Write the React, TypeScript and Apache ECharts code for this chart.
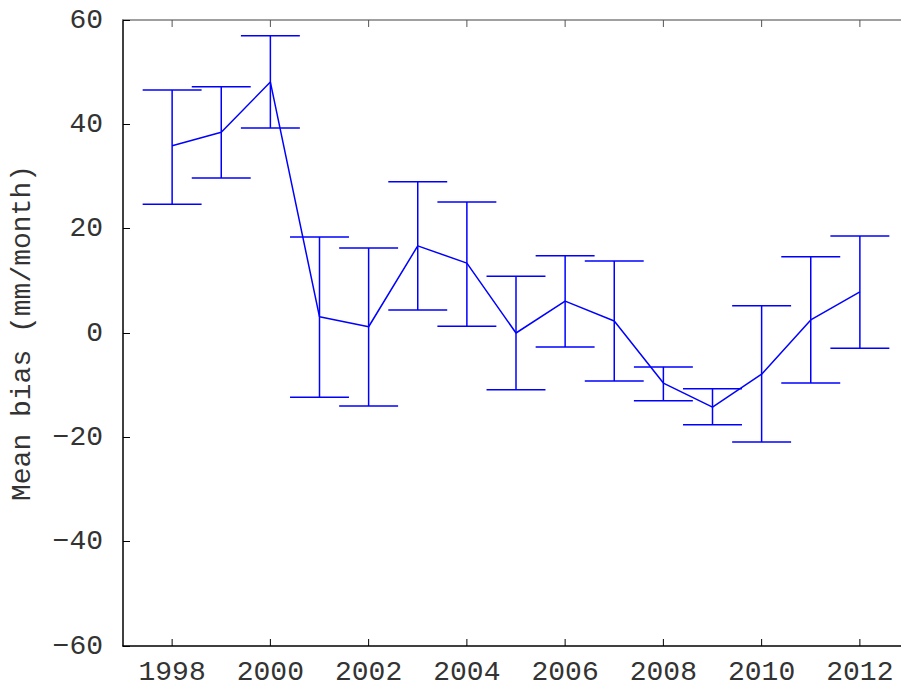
import React, { useEffect, useRef } from "react";
import * as echarts from "echarts";

const years = [1998, 1999, 2000, 2001, 2002, 2003, 2004, 2005, 2006, 2007, 2008, 2009, 2010, 2011, 2012];
const meanBias = [35.9, 38.5, 48.1, 3.1, 1.2, 16.7, 13.4, 0.0, 6.1, 2.3, -9.6, -14.2, -7.9, 2.5, 7.9];
const upper = [46.6, 47.2, 57.0, 18.4, 16.3, 29.0, 25.1, 10.9, 14.8, 13.8, -6.5, -10.7, 5.2, 14.6, 18.6];
const lower = [24.7, 29.7, 39.3, -12.3, -14.0, 4.4, 1.3, -10.9, -2.7, -9.2, -13.0, -17.6, -20.9, -9.6, -2.9];
const yTicks = [-60, -40, -20, 0, 20, 40, 60];

const FONT = "Liberation Mono";
const BLUE = "#0000ff";
const TEXT = "#333";

export default function App() {
  const ref = useRef<HTMLDivElement>(null);
  useEffect(() => {
    if (!ref.current) return;
    const chart = echarts.init(ref.current, undefined, { renderer: "svg" });
    const errData = years.map((y, i) => [y, lower[i], upper[i]]);
    chart.setOption({
      animation: false,
      backgroundColor: "#ffffff",
      grid: { left: 120, top: 20, right: 0, bottom: 42 },
      xAxis: [
        {
          type: "value",
          min: 1997,
          max: 2013,
          interval: 1,
          position: "bottom",
          splitLine: { show: false },
          axisLine: { show: true, onZero: false, lineStyle: { color: "#000", width: 1.5 } },
          axisTick: { show: false },
          axisLabel: {
            show: true,
            margin: 12,
            fontFamily: FONT,
            fontSize: 28,
            color: TEXT,
            formatter: (v: number) => (v % 2 === 0 ? String(v) : ""),
          },
        },
        {
          type: "value",
          min: 1997,
          max: 2013,
          interval: 1,
          position: "top",
          splitLine: { show: false },
          axisLine: { show: true, onZero: false, lineStyle: { color: "#808080", width: 1.5 } },
          axisTick: { show: false },
          axisLabel: { show: false },
        },
      ],
      yAxis: {
        type: "value",
        min: yTicks[0],
        max: yTicks[yTicks.length - 1],
        interval: 20,
        name: "Mean bias (mm/month)",
        nameLocation: "middle",
        nameGap: 87,
        nameRotate: 90,
        nameTextStyle: { fontFamily: FONT, fontSize: 28, color: TEXT },
        splitLine: { show: false },
        axisLine: { show: true, onZero: false, lineStyle: { color: "#000", width: 1.5 } },
        axisTick: { show: true, inside: true, length: 7, lineStyle: { color: "#000", width: 1 } },
        axisLabel: {
          fontFamily: FONT,
          fontSize: 28,
          color: TEXT,
          margin: 20,
          formatter: (v: number) => (v < 0 ? "\u2212" + Math.abs(v) : String(v)),
        },
      },
      series: [
        {
          type: "line",
          data: years.map((y, i) => [y, meanBias[i]]),
          symbol: "none",
          lineStyle: { color: BLUE, width: 1.5 },
          z: 3,
        },
        {
          type: "custom",
          data: errData,
          z: 2,
          renderItem: (params: any, api: any) => {
            const x = api.value(0);
            const lo = api.coord([x, api.value(1)]);
            const hi = api.coord([x, api.value(2)]);
            const half = Math.abs(api.coord([x + 0.6, 0])[0] - api.coord([x, 0])[0]);
            const style = { stroke: BLUE, lineWidth: 1.5, fill: "none" };
            return {
              type: "group",
              children: [
                { type: "line", shape: { x1: lo[0], y1: lo[1], x2: hi[0], y2: hi[1] }, style },
                { type: "line", shape: { x1: lo[0] - half, y1: lo[1], x2: lo[0] + half, y2: lo[1] }, style },
                { type: "line", shape: { x1: hi[0] - half, y1: hi[1], x2: hi[0] + half, y2: hi[1] }, style },
              ],
            };
          },
        },
        {
          type: "custom",
          data: years.filter((y) => y % 2 === 0).map((y) => [y]),
          z: 1,
          silent: true,
          renderItem: (params: any, api: any) => {
            const x = api.value(0);
            const b = api.coord([x, -60]);
            const t = api.coord([x, 60]);
            return {
              type: "group",
              children: [
                { type: "line", shape: { x1: b[0], y1: b[1], x2: b[0], y2: b[1] - 7 }, style: { stroke: "#000", lineWidth: 1 } },
                { type: "line", shape: { x1: t[0], y1: t[1], x2: t[0], y2: t[1] + 7 }, style: { stroke: "#555", lineWidth: 1 } },
              ],
            };
          },
        },
      ],
    });
    return () => chart.dispose();
  }, []);
  return (
    <div style={{ position: "fixed", left: 0, top: 0, width: 901, height: 688, overflow: "hidden", background: "#fff" }}>
      <div ref={ref} style={{ width: 912, height: 688 }} />
    </div>
  );
}
